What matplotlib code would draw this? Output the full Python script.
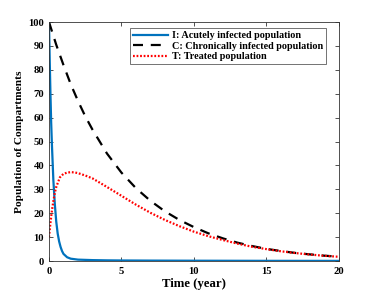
import matplotlib
matplotlib.use("Agg")
import matplotlib.pyplot as plt

# Data
t_I = [0, 0.05, 0.1, 0.15, 0.2, 0.3, 0.4, 0.5, 0.6, 0.7, 0.8, 0.9, 1.0, 1.25, 1.5, 2, 3, 4, 5, 7, 10, 15, 20]
I_vals = [100, 84, 70, 58, 49, 34, 24, 16.5, 11.5, 8.2, 5.9, 4.2, 3.0, 1.6, 1.0, 0.6, 0.4, 0.3, 0.25, 0.2, 0.15, 0.1, 0.08]

t_C = [0, 0.5, 1, 1.5, 2, 2.5, 3, 4, 5, 6, 7, 8, 9, 10, 11, 12, 13, 14, 15, 16, 17, 18, 19, 20]
C_vals = [100, 90.5, 82, 74, 67, 60.6, 55, 45, 37, 30.5, 25.2, 20.8, 17.2, 14.2, 11.6, 9.5, 7.7, 6.3, 5.1, 4.2, 3.4, 2.8, 2.25, 1.85]

t_T = [0, 0.1, 0.2, 0.3, 0.4, 0.5, 0.75, 1, 1.25, 1.5, 1.75, 2, 2.5, 3, 4, 5, 6, 7, 8, 9, 10, 11, 12, 13, 14, 15, 16, 17, 18, 19, 20]
T_vals = [10, 16, 21, 25, 28.5, 31, 35, 36.5, 37, 37.2, 37.1, 36.8, 35.8, 34.6, 31, 27.3, 23.6, 20.2, 17.2, 14.6, 12.3, 10.4, 8.8, 7.3, 6.0, 5.0, 4.1, 3.35, 2.75, 2.2, 1.8]

labels = ["I: Acutely infected population",
          "C: Chronically infected population",
          "T: Treated population"]

plt.rcParams['font.family'] = ['Liberation Serif', 'DejaVu Serif']
plt.rcParams['font.weight'] = 'bold'

fig = plt.figure(figsize=(3.74, 2.94), dpi=100)
ax = fig.add_axes([0.131, 0.112, 0.775, 0.813])

ax.plot(t_I, I_vals, color='#0072BD', lw=1.6, label=labels[0])
ax.plot(t_C, C_vals, color='black', lw=1.6, ls=(0, (4.5, 3.5)), label=labels[1])
ax.plot(t_T, T_vals, color='red', lw=1.6, ls=(0, (0.8, 0.8)), label=labels[2])

ax.set_xlim(0, 20)
ax.set_ylim(0, 100)
ax.set_xticks([0, 5, 10, 15, 20])
ax.set_yticks(range(0, 101, 10))
ax.tick_params(direction='in', top=True, right=True, length=3, width=0.6,
               labelsize=7.7, color='#333333')
ax.tick_params(axis='x', pad=4)
ax.tick_params(axis='y', pad=3.5)
for lab in ax.get_xticklabels() + ax.get_yticklabels():
    lab.set_fontweight('bold')
for s in ax.spines.values():
    s.set_linewidth(0.6)
    s.set_color('#333333')

ax.set_xlabel('Time (year)', fontsize=9.2, fontweight='bold', labelpad=2)
ax.set_ylabel('Population of Compartments', fontsize=8.2, fontweight='bold', labelpad=3)

leg = ax.legend(loc='upper right', bbox_to_anchor=(0.955, 0.975), fontsize=7.3,
                frameon=True, fancybox=False, edgecolor='#333333',
                handlelength=3.5, handletextpad=0.3, borderpad=0.3,
                labelspacing=0.15, borderaxespad=0)
leg.get_frame().set_linewidth(0.6)
for txt in leg.get_texts():
    txt.set_fontweight('bold')

fig.savefig('out.png', dpi=100)
